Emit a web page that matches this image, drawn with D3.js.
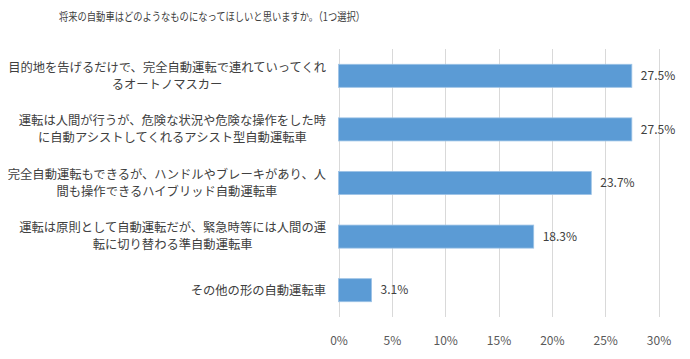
<!DOCTYPE html>
<html><head><meta charset="utf-8">
<script src="https://cdn.jsdelivr.net/npm/d3@7"></script>
<style>
body{margin:0;background:#fff;}
text{font-family:"Noto Sans CJK JP","Noto Sans",sans-serif;}
</style></head>
<body><svg id="c" width="690" height="359"></svg>
<script>
const title = "将来の自動車はどのようなものになってほしいと思いますか。（1つ選択）";
const categories = [
  ["目的地を告げるだけで、完全自動運転で連れていってくれ","るオートノマスカー"],
  ["運転は人間が行うが、危険な状況や危険な操作をした時","に自動アシストしてくれるアシスト型自動運転車"],
  ["完全自動運転もできるが、ハンドルやブレーキがあり、人","間も操作できるハイブリッド自動運転車"],
  ["運転は原則として自動運転だが、緊急時等には人間の運","転に切り替わる準自動運転車"],
  ["その他の形の自動運転車"]
];
const values = [27.5, 27.5, 23.7, 18.3, 3.1];
const ticks = [0, 5, 10, 15, 20, 25, 30];

const svg = d3.select("#c");
const x = d3.scaleLinear().domain([0, 30]).range([338.5, 658.5]);
const y = d3.scaleBand().domain(d3.range(categories.length)).range([49, 317]).paddingInner(0.57).paddingOuter(0.285);

svg.append("text").attr("x", 59).attr("y", 21).attr("font-size", 11.5).attr("fill", "#404040")
  .attr("textLength", 306).attr("lengthAdjust", "spacingAndGlyphs").text(title);

svg.append("g").selectAll("line").data(ticks).join("line")
  .attr("x1", d => Math.round(x(d)) + 0.5).attr("x2", d => Math.round(x(d)) + 0.5)
  .attr("y1", 49).attr("y2", 317).attr("stroke", "#d9d9d9").attr("stroke-width", 1);

const xAxis = d3.axisBottom(x).tickValues(ticks).tickFormat(d => d + "%").tickSize(0);
const ax = svg.append("g").attr("transform", "translate(0,333)").call(xAxis);
ax.select(".domain").remove();
ax.selectAll("text").attr("font-family", "'Liberation Sans',Arial,sans-serif").attr("font-size", 12).attr("fill", "#595959");

svg.append("g").selectAll("rect").data(values).join("rect")
  .attr("x", x(0)).attr("y", (d, i) => y(i)).attr("width", d => x(d) - x(0)).attr("height", y.bandwidth())
  .attr("fill", "#5B9BD5").attr("stroke", "#9DC3E6").attr("stroke-width", 0.8);

svg.append("g").selectAll("text").data(values).join("text")
  .attr("x", d => x(d) + 9).attr("y", (d, i) => y(i) + y.bandwidth() / 2).attr("dy", "0.35em")
  .attr("font-family", "'Liberation Sans',Arial,sans-serif").attr("font-size", 12).attr("fill", "#404040")
  .text(d => d.toFixed(1) + "%");

const rightEdge = 326;
categories.forEach((lines, i) => {
  const g = svg.append("g");
  const cy = y(i) + y.bandwidth() / 2;
  const lh = 17;
  const ts = lines.map((l, k) => g.append("text").attr("font-size", 12.3).attr("fill", "#404040")
    .attr("text-anchor", "middle").attr("y", cy + (k - (lines.length - 1) / 2) * lh).attr("dy", "0.35em").text(l));
  const w = d3.max(ts, t => t.node().getComputedTextLength());
  ts.forEach(t => t.attr("x", rightEdge - w / 2));
});
</script></body></html>
